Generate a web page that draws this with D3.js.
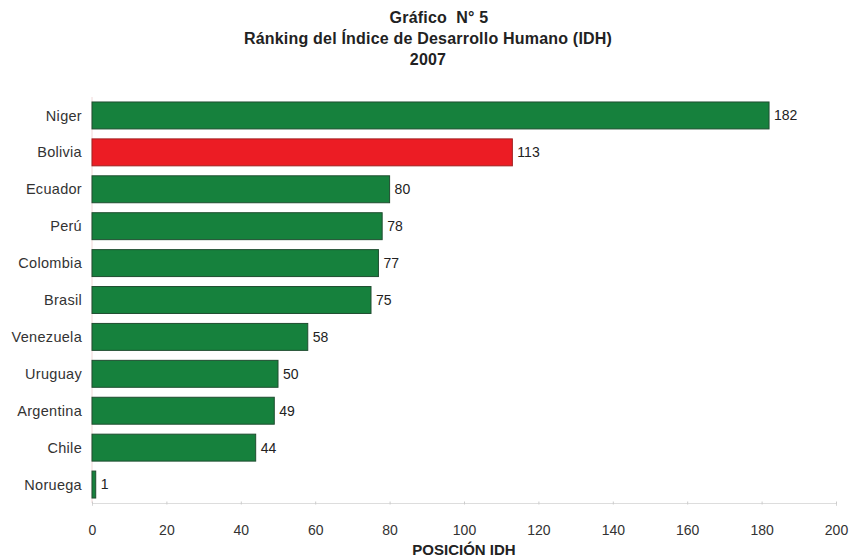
<!DOCTYPE html>
<html><head><meta charset="utf-8">
<script src="https://cdn.jsdelivr.net/npm/d3@7"></script>
<style>body{margin:0;background:#fff}svg{display:block}text{font-family:"Liberation Sans",Arial,sans-serif}</style>
</head><body><svg id="c" width="851" height="559"></svg>
<script>
const countries = ["Niger","Bolivia","Ecuador","Perú","Colombia","Brasil","Venezuela","Uruguay","Argentina","Chile","Noruega"];
const positions = [182,113,80,78,77,75,58,50,49,44,1];
const xTicks = [0,20,40,60,80,100,120,140,160,180,200];
const highlight = "Bolivia";
const titleLines = ["Gráfico  N° 5","Ránking del Índice de Desarrollo Humano (IDH)","2007"];
const xTitle = "POSICIÓN IDH";

const svg = d3.select("#c");
const x = d3.scaleLinear().domain([0,200]).range([92,836]);
const y = d3.scaleBand().domain(countries).range([97,503]).paddingInner(0.27).paddingOuter(0.135);

// title
svg.selectAll("text.title").data(titleLines).join("text")
  .attr("x",(d,i)=>[439,428,428][i]).attr("y",(d,i)=>[23,44,65][i])
  .style("white-space","pre")
  .attr("text-anchor","middle").attr("font-weight","bold").attr("font-size",16).attr("letter-spacing",0.2).attr("fill","#222")
  .text(d=>d);

// left axis line
svg.append("line").attr("x1",x(0)).attr("x2",x(0)).attr("y1",97).attr("y2",503).attr("stroke","#f0d8d8").attr("stroke-width",1);

// bottom axis
const gx = svg.append("g").attr("transform","translate(0,503)")
  .call(d3.axisBottom(x).tickValues(xTicks).tickSize(3).tickPadding(19));
gx.select(".domain").attr("stroke","#ddd");
gx.selectAll(".tick line").attr("stroke","#ccc").attr("transform","translate(0,-1.5)");
gx.selectAll(".tick text").attr("font-size",14).attr("fill","#333").attr("font-family","Liberation Sans,Arial,sans-serif");

svg.append("text").attr("x",464).attr("y",555).attr("text-anchor","middle")
  .attr("font-weight","bold").attr("font-size",15).attr("fill","#222").text(xTitle);

// bars
svg.selectAll("rect.bar").data(countries).join("rect")
  .attr("x",x(0)).attr("y",d=>y(d)).attr("height",y.bandwidth())
  .attr("width",(d,i)=>x(positions[i])-x(0))
  .attr("fill",d=>d===highlight?"#ec1c24":"#16813d")
  .attr("stroke",d=>d===highlight?"#a02020":"#1f4d30").attr("stroke-width",1);

// category labels
svg.selectAll("text.cat").data(countries).join("text")
  .attr("x",82).attr("y",d=>y(d)+y.bandwidth()/2).attr("dy","0.35em")
  .attr("text-anchor","end").attr("font-size",14.5).attr("letter-spacing",0.3).attr("fill","#333").text(d=>d);

// value labels
svg.selectAll("text.val").data(countries).join("text")
  .attr("x",(d,i)=>x(positions[i])+5).attr("y",d=>y(d)+y.bandwidth()/2).attr("dy","0.35em")
  .attr("font-size",14).attr("fill","#222").text((d,i)=>positions[i]);
</script></body></html>
